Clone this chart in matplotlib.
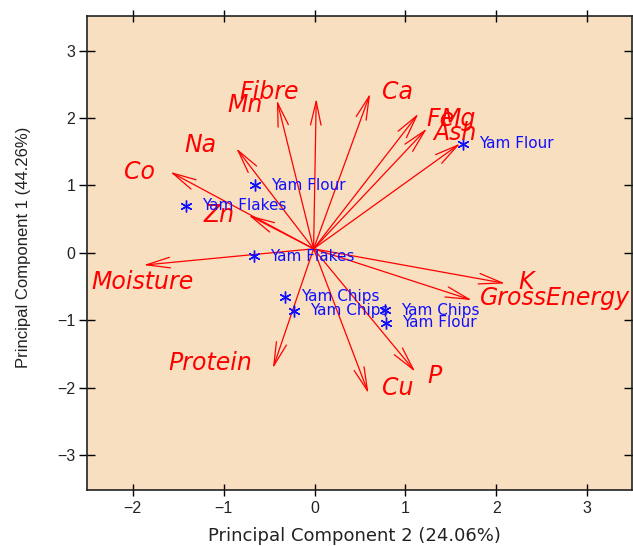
import matplotlib
matplotlib.use("Agg")
import matplotlib.pyplot as plt
from matplotlib.patches import FancyArrowPatch

# ---- data ----
variables = ["Fibre", "Mn", "Ca", "Fe", "Mg", "Ash", "Na", "Co", "Zn",
             "Moisture", "Protein", "Cu", "P", "K", "GrossEnergy"]
var_pc2 = [0.019, -0.414, 0.613, 1.144, 1.603, 1.237, -0.861, -1.588, -0.726,
           -1.881, -0.458, 0.594, 1.108, 2.098, 1.731]
var_pc1 = [2.290, 2.266, 2.365, 2.068, 1.623, 1.846, 1.553, 1.202, 0.559,
           -0.182, -1.715, -2.086, -1.765, -0.454, -0.702]

samples = ["Yam Flour", "Yam Flakes", "Yam Flakes", "Yam Chips", "Yam Chips",
           "Yam Chips", "Yam Flour", "Yam Flour"]
obs_pc2 = [-0.652, -1.411, -0.663, -0.322, -0.223, 0.778, 0.789, 1.639]
obs_pc1 = [1.004, 0.697, -0.049, -0.653, -0.861, -0.850, -1.039, 1.623]

origin = (-0.01, 0.06)
x_ticks = [-2, -1, 0, 1, 2, 3]
y_ticks = [-3, -2, -1, 0, 1, 2, 3]
x_label = "Principal Component 2 (24.06%)"
y_label = "Principal Component 1 (44.26%)"

# ---- label layout (alignment and offset from arrow tip, data units) ----
label_layout = {
    "Fibre": ("center", -0.516, 0.094),
    "Mn": ("right", -0.161, -0.076),
    "Ca": ("left", 0.128, 0.024),
    "Fe": ("left", 0.085, -0.078),
    "Mg": ("left", -0.220, 0.367),
    "Ash": ("left", 0.069, -0.063),
    "Na": ("right", -0.213, 0.045),
    "Co": ("right", -0.165, -0.005),
    "Zn": ("right", -0.157, 0.0),
    "Moisture": ("center", -0.014, -0.253),
    "Protein": ("right", -0.231, 0.078),
    "Cu": ("left", 0.147, 0.078),
    "P": ("left", 0.129, -0.065),
    "K": ("left", 0.146, 0.024),
    "GrossEnergy": ("left", 0.092, 0.025),
}

plt.rcParams['font.family'] = ['Liberation Sans', 'DejaVu Sans']

fig = plt.figure(figsize=(6.33, 5.46), dpi=100)
ax = fig.add_axes([87.3 / 633, 56 / 546, (631.7 - 87.3) / 633, (490 - 15.7) / 546])
ax.set_facecolor('#F7DFC0')
ax.set_xlim(-2.5, 3.49)
ax.set_ylim(-3.52, 3.52)

red = '#FF0000'
blue = '#1010FF'

for name, x, y in zip(variables, var_pc2, var_pc1):
    arr = FancyArrowPatch(origin, (x, y),
                          arrowstyle='->,head_length=17,head_width=3.8',
                          mutation_scale=1, shrinkA=0, shrinkB=0,
                          color=red, lw=0.9)
    ax.add_patch(arr)
    ha, dx, dy = label_layout[name]
    ax.text(x + dx, y + dy, name, color=red, fontsize=17, style='italic',
            family=['DejaVu Sans'], ha=ha, va='center')

ax.plot(obs_pc2, obs_pc1, linestyle='none', marker=(6, 2, 0), markersize=8.5,
        markeredgewidth=1.0, color=blue)
for name, x, y in zip(samples, obs_pc2, obs_pc1):
    ax.text(x + 0.17, y, name, color=blue, fontsize=11, family=['DejaVu Sans'],
            ha='left', va='center')

ax.set_xticks(x_ticks)
ax.set_yticks(y_ticks)
ax.tick_params(axis='both', which='both', direction='inout', width=1.0,
               top=True, right=True, labelsize=11.5, colors='black')
ax.tick_params(axis='x', length=8, pad=4, labelcolor='#222222')
ax.tick_params(axis='y', length=11, pad=3, labelcolor='#222222')
for sp in ax.spines.values():
    sp.set_linewidth(1.2)
    sp.set_color('#222222')

fig.text(354 / 633, 1 - 536 / 546, x_label, ha='center', va='center', fontsize=13,
         family=['DejaVu Sans'], color='#222222')
fig.text(24 / 633, 1 - 247 / 546, y_label, ha='center', va='center', fontsize=12,
         rotation=90, color='#222222')

fig.savefig('out.png', dpi=100)
